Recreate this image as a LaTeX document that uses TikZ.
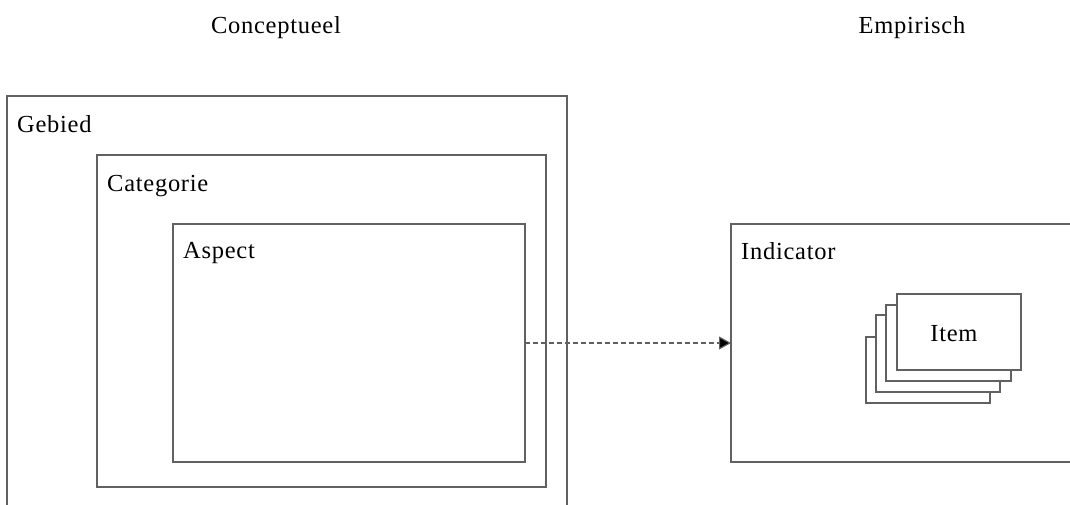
\documentclass[tikz,border=0pt]{standalone}
\usepackage{fontspec}
\setmainfont[LetterSpace=3]{Liberation Serif}
\usetikzlibrary{arrows.meta}
\definecolor{boxline}{gray}{0.38}
\tikzset{
  frame/.style={draw=boxline, line width=1.2pt, fill=white, inner sep=0pt, outer sep=0pt},
  card/.style={draw=boxline, line width=1.2pt, fill=white, inner sep=0pt, outer sep=0pt},
  lbl/.style={anchor=base west, inner sep=0pt, font=\fontsize{24.5}{28}\selectfont},
  ttl/.style={anchor=base, inner sep=0pt, font=\fontsize{24.5}{28}\selectfont},
  link/.style={draw=boxline, line width=1.1pt, dash pattern=on 5pt off 3pt, -{Triangle[length=12pt,width=13pt,fill=black]}}
}
\begin{document}
\begin{tikzpicture}[x=1pt,y=-1pt]
\useasboundingbox (0,0) rectangle (1070,504);
\clip (0,0) rectangle (1070,504);
% titles
\node[ttl] (tconc) at (276,33) {Conceptueel};
\node[ttl] (temp) at (912,33) {Empirisch};
% nested conceptual boxes
\node[frame, minimum width=560pt, minimum height=440pt, anchor=north west] (gebied) at (7,96) {};
\node[frame, minimum width=449pt, minimum height=332pt, anchor=north west] (categorie) at (97,155) {};
\node[frame, minimum width=352pt, minimum height=238pt, anchor=north west] (aspect) at (173,224) {};
\node[lbl] (lgebied) at (17,132) {Gebied};
\node[lbl] (lcat) at (107,191) {Categorie};
\node[lbl] (lasp) at (183,258) {Aspect};
% indicator
\node[frame, minimum width=360pt, minimum height=238pt, anchor=north west] (indicator) at (731,224) {};
\node[lbl] (lind) at (741,259) {Indicator};
% stacked item cards
\node[card, minimum width=124pt, minimum height=66pt, anchor=north west] (card4) at (866,337) {};
\node[card, minimum width=124pt, minimum height=77pt, anchor=north west] (card3) at (876,315) {};
\node[card, minimum width=125pt, minimum height=76pt, anchor=north west] (card2) at (886,305) {};
\node[card, minimum width=124pt, minimum height=76pt, anchor=north west] (card1) at (897,294) {};
\node[ttl] (litem) at (954,341) {Item};
% connector
\draw[link] (aspect.east) -- (aspect.east -| indicator.west);
\end{tikzpicture}
\end{document}
